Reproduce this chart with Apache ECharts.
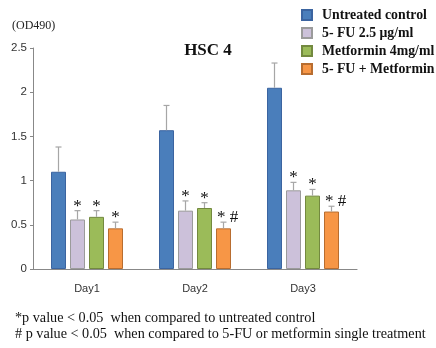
<!DOCTYPE html>
<html><head><meta charset="utf-8">
<script src="https://cdn.jsdelivr.net/npm/echarts@6/dist/echarts.min.js"></script>
<style>html,body{margin:0;padding:0;background:#fff}#c{width:436px;height:348px}</style>
</head><body><div id="c"></div>
<script>
var categories = ['Day1', 'Day2', 'Day3'];
var seriesNames = ['Untreated control', '5- FU 2.5 μg/ml', 'Metformin 4mg/ml', '5- FU + Metformin'];
var control   = [1.10, 1.57, 2.05];
var fu        = [0.56, 0.66, 0.89];
var metformin = [0.59, 0.69, 0.83];
var combo     = [0.46, 0.46, 0.65];
var controlErr   = [0.28, 0.28, 0.28];
var fuErr        = [0.10, 0.11, 0.09];
var metforminErr = [0.07, 0.06, 0.07];
var comboErr     = [0.07, 0.07, 0.06];
var controlSig   = ['', '', ''];
var fuSig        = ['*', '*', '*'];
var metforminSig = ['*', '*', '*'];
var comboSig     = ['*', '* #', '* #'];
var yTicks = [0, 0.5, 1, 1.5, 2, 2.5];

var values = [control, fu, metformin, combo];
var errs = [controlErr, fuErr, metforminErr, comboErr];
var sigs = [controlSig, fuSig, metforminSig, comboSig];
var fills = ['#4a7ebb', '#ccc1da', '#9bbb59', '#f79646'];
var borders = ['#3b64a0', '#9b9b9b', '#73893f', '#b86d30'];

var BW = 15, GAP = 4;
var series = [];
values.forEach(function (vals, i) {
  series.push({
    name: seriesNames[i], type: 'bar', data: vals, barWidth: BW, barGap: (GAP / BW * 100) + '%',
    itemStyle: { color: fills[i], borderColor: borders[i], borderWidth: 1 }
  });
});
values.forEach(function (vals, i) {
  var off = (i - 1.5) * (BW + GAP);
  series.push({
    type: 'custom', silent: true, z: 5,
    data: vals.map(function (v, k) { return [k, v, v + errs[i][k], sigs[i][k]]; }),
    encode: { x: 0, y: [1, 2] },
    renderItem: function (params, api) {
      var k = api.value(0);
      var p0 = api.coord([k, api.value(1)]);
      var p1 = api.coord([k, api.value(2)]);
      var x = p0[0] + off;
      var item = sigs[i][k];
      var children = [
        { type: 'line', shape: { x1: x, y1: p0[1], x2: x, y2: p1[1] }, style: { stroke: '#a6a6a6', lineWidth: 1.2 } },
        { type: 'line', shape: { x1: x - 3, y1: p1[1], x2: x + 3, y2: p1[1] }, style: { stroke: '#a6a6a6', lineWidth: 1.2 } }
      ];
      if (item) {
        children.push({ type: 'text', style: { x: x + (item.length > 1 ? 4 : 0), y: p1[1] + 4, text: item, textAlign: 'center', textVerticalAlign: 'bottom',
          font: '17px "Liberation Serif"', fill: '#111' } });
      }
      return { type: 'group', children: children };
    }
  });
});

var chart = echarts.init(document.getElementById('c'), null, { renderer: 'canvas' });
chart.setOption({
  animation: false,
  title: { text: 'HSC 4', left: 203, top: 37, textAlign: 'center',
    textStyle: { fontFamily: 'Liberation Serif', fontWeight: 'bold', fontSize: 17, color: '#111' } },
  legend: {
    orient: 'vertical', left: 296, top: 3, itemWidth: 10, itemHeight: 10, itemGap: 4,
    data: seriesNames, icon: 'rect',
    textStyle: { fontFamily: 'Liberation Serif', fontWeight: 'bold', fontSize: 13.8, lineHeight: 14, color: '#111', padding: [0, 0, 0, 5] }
  },
  grid: { left: 33, right: 79, top: 48, bottom: 79 },
  xAxis: {
    type: 'category', data: categories,
    axisLine: { lineStyle: { color: '#888', width: 1.2 } },
    axisTick: { show: false },
    axisLabel: { fontFamily: 'Liberation Sans', fontSize: 11, color: '#333', margin: 14 }
  },
  yAxis: {
    type: 'value', min: 0, max: 2.5, interval: 0.5,
    axisLine: { show: true, lineStyle: { color: '#888', width: 1 } },
    axisTick: { show: true, length: 3, lineStyle: { color: '#888' } },
    splitLine: { show: false },
    axisLabel: { fontFamily: 'Liberation Sans', fontSize: 11.5, color: '#333', margin: 6,
      formatter: function (v) { return yTicks.indexOf(v) >= 0 ? String(v) : ''; } }
  },
  graphic: [
    { type: 'text', left: 12, top: 20, style: { text: '(OD490)', font: '12px "Liberation Serif"', fill: '#222' } },
    { type: 'text', left: 15, top: 311, style: { text: '*p value < 0.05  when compared to untreated control', font: '14.2px "Liberation Serif"', fill: '#111' } },
    { type: 'text', left: 15, top: 327, style: { text: '# p value < 0.05  when compared to 5-FU or metformin single treatment', font: '14.2px "Liberation Serif"', fill: '#111' } }
  ],
  series: series
});
</script></body></html>
